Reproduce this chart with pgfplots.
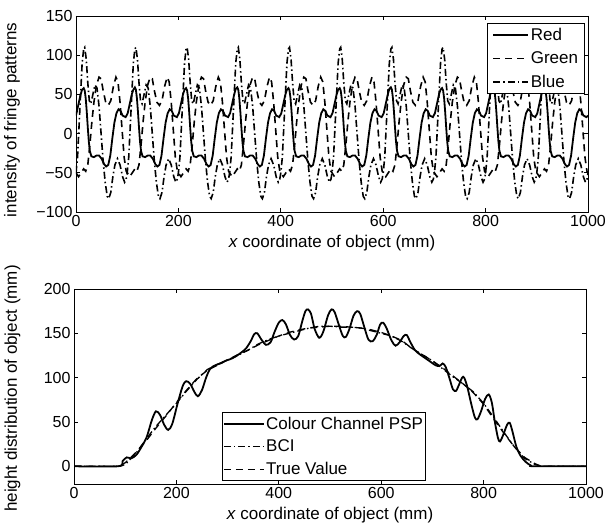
\documentclass[border=0pt]{standalone}
\usepackage{fontspec}
\setmainfont{Liberation Sans}
\usepackage{pgfplots}
\pgfplotsset{compat=1.18}

\pgfplotsset{
  panel/.style={
    scale only axis, width=512pt,
    xmin=0, xmax=1000,
    xtick={0,200,400,600,800,1000},
    xticklabels={0,200,400,600,800,1000},
    axis line style={line width=0.8pt},
    tick align=inside, tick pos=both,
    major tick length=4pt,
    tick style={line width=0.7pt, black},
    /pgf/number format/assume math mode=true,
    tick label style={font=\fontsize{16}{16}\selectfont},
    label style={font=\fontsize{17}{17}\selectfont},
    legend cell align=left,
  },
  mslegend/.style={
    draw=black, line width=0.8pt, fill=white,
    font=\fontsize{17}{17}\selectfont,
    inner ysep=2pt, row sep=5pt,
    nodes={inner xsep=1.5pt, inner ysep=2.5pt},
  },
}

\begin{document}
\begin{tikzpicture}
\path[use as bounding box] (0pt,0pt) rectangle (605pt,526pt);

% ---------- fringe patterns of the three colour channels ----------
\begin{axis}[panel,
  height=196pt, at={(76pt,314pt)}, anchor=south west,
  ymin=-100, ymax=150,
  ytick={-100,-50,0,50,100,150},
  yticklabels={−100,−50,0,50,100,150},
  xlabel={\textit{x} coordinate of object (mm)},
  ylabel={intensity of fringe patterns},
  xlabel style={at={(axis description cs:0.5,-0.158)}, anchor=center},
  ylabel style={at={(axis description cs:-0.125,0.47)}, anchor=center},
  legend image code/.code={\draw[#1] (0pt,0pt) -- (35pt,0pt);},
  legend style={mslegend, inner xsep=5pt, at={(axis description cs:0.994,0.964)}, anchor=north east},
]
\addplot[black, line width=1.8pt] coordinates {
(0,23)(1,26)(5,38)(9,50)(12,56)(15,58)(17,55)(19,45)(21,28)(23,8)(25,-10)(27,-22)(30,-29)(35,-30)(40,-28)(45,-28)(50,-32)(55,-39)(59,-42)(63,-40)(67,-28)(71,-6)(75,14)(79,26)(83,31)(87,29)(91,23)(97,21)
(101,26)(105,38)(109,50)(112,56)(115,59)(117,56)(119,45)(121,28)(123,8)(125,-10)(127,-22)(130,-29)(135,-30)(140,-28)(145,-28)(150,-32)(155,-39)(159,-42)(163,-40)(167,-28)(171,-6)(175,14)(179,26)(183,31)(187,29)(191,23)(197,21)
(201,26)(205,38)(209,50)(212,56)(215,58)(217,55)(219,45)(221,28)(223,8)(225,-10)(227,-22)(230,-29)(235,-30)(240,-28)(245,-28)(250,-32)(255,-39)(259,-42)(263,-40)(267,-28)(271,-6)(275,14)(279,26)(283,31)(287,29)(291,23)(297,21)
(301,26)(305,38)(309,50)(312,57)(315,59)(317,56)(319,45)(321,28)(323,8)(325,-10)(327,-22)(330,-29)(335,-30)(340,-28)(345,-28)(350,-32)(355,-39)(359,-42)(363,-40)(367,-28)(371,-6)(375,14)(379,26)(383,31)(387,29)(391,23)(397,21)
(401,26)(405,38)(409,50)(412,56)(415,58)(417,55)(419,45)(421,28)(423,8)(425,-10)(427,-22)(430,-29)(435,-30)(440,-28)(445,-28)(450,-32)(455,-39)(459,-42)(463,-40)(467,-28)(471,-6)(475,14)(479,26)(483,31)(487,29)(491,23)(497,21)
(501,26)(505,38)(509,50)(512,56)(515,58)(517,55)(519,45)(521,28)(523,8)(525,-10)(527,-22)(530,-29)(535,-30)(540,-28)(545,-28)(550,-32)(555,-39)(559,-42)(563,-40)(567,-28)(571,-6)(575,14)(579,26)(583,31)(587,29)(591,23)(597,21)
(601,26)(605,38)(609,50)(612,57)(615,59)(617,56)(619,45)(621,28)(623,8)(625,-10)(627,-22)(630,-29)(635,-30)(640,-28)(645,-28)(650,-32)(655,-39)(659,-42)(663,-40)(667,-28)(671,-6)(675,14)(679,26)(683,31)(687,29)(691,23)(697,21)
(701,26)(705,38)(709,50)(712,56)(715,58)(717,55)(719,45)(721,28)(723,8)(725,-10)(727,-22)(730,-29)(735,-30)(740,-28)(745,-28)(750,-32)(755,-39)(759,-42)(763,-40)(767,-28)(771,-6)(775,14)(779,26)(783,31)(787,29)(791,23)(797,21)
(801,26)(805,38)(809,50)(812,56)(815,59)(817,56)(819,45)(821,28)(823,8)(825,-10)(827,-22)(830,-29)(835,-30)(840,-28)(845,-28)(850,-32)(855,-39)(859,-42)(863,-40)(867,-28)(871,-6)(875,14)(879,26)(883,31)(887,29)(891,23)(897,21)
(901,26)(905,38)(909,50)(912,56)(915,58)(917,55)(919,45)(921,28)(923,8)(925,-10)(927,-22)(930,-29)(935,-30)(940,-28)(945,-28)(950,-32)(955,-39)(959,-42)(963,-40)(967,-28)(971,-6)(975,14)(979,26)(983,31)(987,29)(991,23)(997,21)
(1000,23)
};
\addlegendentry{Red}
\addplot[black, line width=1.6pt, dash pattern=on 7pt off 5pt] coordinates {
(0,-50)(5,-55)(10,-50)(15,-45)(19,-48)(23,-40)(27,-15)(31,15)(35,40)(40,62)(45,72)(49,70)(53,55)(58,40)(63,36)(68,42)(73,60)(78,72)(82,66)(86,40)(90,5)(94,-30)(98,-48)
(100,-50)(105,-55)(110,-50)(115,-45)(119,-48)(123,-40)(127,-15)(131,15)(135,40)(140,62)(145,72)(149,70)(153,55)(158,40)(163,36)(168,42)(173,60)(178,72)(182,66)(186,40)(190,5)(194,-30)(198,-48)
(200,-50)(205,-55)(210,-50)(215,-45)(219,-48)(223,-40)(227,-15)(231,15)(235,40)(240,62)(245,72)(249,70)(253,55)(258,40)(263,36)(268,42)(273,60)(278,72)(282,66)(286,40)(290,5)(294,-30)(298,-48)
(300,-50)(305,-55)(310,-50)(315,-45)(319,-48)(323,-40)(327,-15)(331,15)(335,40)(340,62)(345,72)(349,70)(353,55)(358,40)(363,36)(368,42)(373,60)(378,72)(382,66)(386,40)(390,5)(394,-30)(398,-48)
(400,-50)(405,-55)(410,-50)(415,-45)(419,-48)(423,-40)(427,-15)(431,15)(435,40)(440,62)(445,72)(449,70)(453,55)(458,40)(463,36)(468,42)(473,60)(478,72)(482,66)(486,40)(490,5)(494,-30)(498,-48)
(500,-50)(505,-55)(510,-50)(515,-45)(519,-48)(523,-40)(527,-15)(531,15)(535,40)(540,62)(545,72)(549,70)(553,55)(558,40)(563,36)(568,42)(573,60)(578,72)(582,66)(586,40)(590,5)(594,-30)(598,-48)
(600,-50)(605,-55)(610,-50)(615,-45)(619,-48)(623,-40)(627,-15)(631,15)(635,40)(640,62)(645,72)(649,70)(653,55)(658,40)(663,36)(668,42)(673,60)(678,72)(682,66)(686,40)(690,5)(694,-30)(698,-48)
(700,-50)(705,-55)(710,-50)(715,-45)(719,-48)(723,-40)(727,-15)(731,15)(735,40)(740,62)(745,72)(749,70)(753,55)(758,40)(763,36)(768,42)(773,60)(778,72)(782,66)(786,40)(790,5)(794,-30)(798,-48)
(800,-50)(805,-55)(810,-50)(815,-45)(819,-48)(823,-40)(827,-15)(831,15)(835,40)(840,62)(845,72)(849,70)(853,55)(858,40)(863,36)(868,42)(873,60)(878,72)(882,66)(886,40)(890,5)(894,-30)(898,-48)
(900,-50)(905,-55)(910,-50)(915,-45)(919,-48)(923,-40)(927,-15)(931,15)(935,40)(940,62)(945,72)(949,70)(953,55)(958,40)(963,36)(968,42)(973,60)(978,72)(982,66)(986,40)(990,5)(994,-30)(998,-48)
(1000,-50)
};
\addlegendentry{Green}
\addplot[black, line width=1.6pt, dash pattern=on 7pt off 3pt on 1.5pt off 3pt] coordinates {
(0,-50)(3,-30)(6,10)(9,50)(12,90)(15,108)(17,110)(20,95)(23,65)(26,42)(29,38)(33,50)(37,62)(41,58)(45,35)(49,0)(53,-35)(57,-62)(61,-80)(64,-83)(68,-75)(72,-55)(76,-40)(81,-32)(86,-40)(91,-55)(95,-62)(98,-58)
(100,-50)(103,-30)(106,10)(109,50)(112,90)(115,108)(117,110)(120,95)(123,65)(126,42)(129,38)(133,50)(137,62)(141,58)(145,35)(149,0)(153,-35)(157,-62)(161,-80)(164,-83)(168,-75)(172,-55)(176,-40)(181,-32)(186,-40)(191,-55)(195,-62)(198,-58)
(200,-50)(203,-30)(206,10)(209,50)(212,90)(215,108)(217,110)(220,95)(223,65)(226,42)(229,38)(233,50)(237,62)(241,58)(245,35)(249,0)(253,-35)(257,-62)(261,-80)(264,-83)(268,-75)(272,-55)(276,-40)(281,-32)(286,-40)(291,-55)(295,-62)(298,-58)
(300,-50)(303,-30)(306,10)(309,50)(312,90)(315,108)(317,110)(320,95)(323,65)(326,42)(329,38)(333,50)(337,62)(341,58)(345,35)(349,0)(353,-35)(357,-62)(361,-80)(364,-83)(368,-75)(372,-55)(376,-40)(381,-32)(386,-40)(391,-55)(395,-62)(398,-58)
(400,-50)(403,-30)(406,10)(409,50)(412,90)(415,108)(417,110)(420,95)(423,65)(426,42)(429,38)(433,50)(437,62)(441,58)(445,35)(449,0)(453,-35)(457,-62)(461,-80)(464,-83)(468,-75)(472,-55)(476,-40)(481,-32)(486,-40)(491,-55)(495,-62)(498,-58)
(500,-50)(503,-30)(506,10)(509,50)(512,90)(515,108)(517,110)(520,95)(523,65)(526,42)(529,38)(533,50)(537,62)(541,58)(545,35)(549,0)(553,-35)(557,-62)(561,-80)(564,-83)(568,-75)(572,-55)(576,-40)(581,-32)(586,-40)(591,-55)(595,-62)(598,-58)
(600,-50)(603,-30)(606,10)(609,50)(612,90)(615,108)(617,110)(620,95)(623,65)(626,42)(629,38)(633,50)(637,62)(641,58)(645,35)(649,0)(653,-35)(657,-62)(661,-80)(664,-83)(668,-75)(672,-55)(676,-40)(681,-32)(686,-40)(691,-55)(695,-62)(698,-58)
(700,-50)(703,-30)(706,10)(709,50)(712,90)(715,108)(717,110)(720,95)(723,65)(726,42)(729,38)(733,50)(737,62)(741,58)(745,35)(749,0)(753,-35)(757,-62)(761,-80)(764,-83)(768,-75)(772,-55)(776,-40)(781,-32)(786,-40)(791,-55)(795,-62)(798,-58)
(800,-50)(803,-30)(806,10)(809,50)(812,90)(815,108)(817,110)(820,95)(823,65)(826,42)(829,38)(833,50)(837,62)(841,58)(845,35)(849,0)(853,-35)(857,-62)(861,-80)(864,-83)(868,-75)(872,-55)(876,-40)(881,-32)(886,-40)(891,-55)(895,-62)(898,-58)
(900,-50)(903,-30)(906,10)(909,50)(912,90)(915,108)(917,110)(920,95)(923,65)(926,42)(929,38)(933,50)(937,62)(941,58)(945,35)(949,0)(953,-35)(957,-62)(961,-80)(964,-83)(968,-75)(972,-55)(976,-40)(981,-32)(986,-40)(991,-55)(995,-62)(998,-58)
(1000,-50)
};
\addlegendentry{Blue}
\end{axis}

% ---------- reconstructed height distribution ----------
\begin{axis}[panel,
  height=195pt, at={(74pt,42pt)}, anchor=south west,
  ymin=-20, ymax=200,
  ytick={0,50,100,150,200},
  yticklabels={0,50,100,150,200},
  xlabel={\textit{x} coordinate of object (mm)},
  ylabel={height distribution of object (mm)},
  xlabel style={at={(axis description cs:0.5,-0.159)}, anchor=center},
  ylabel style={at={(axis description cs:-0.12,0.49)}, anchor=center},
  legend image code/.code={\draw[#1] (0pt,0pt) -- (40pt,0pt);},
  legend style={mslegend, inner xsep=0.5pt, row sep=4pt, at={(axis description cs:0.289,0.015)}, anchor=south west},
]
\addplot[black, line width=1.8pt, smooth, tension=0.5] coordinates {
(0,0)(86,0)(95,6)(103,10)(112,9)(122,13)(132,22)(142,33)(152,52)(160,62)(168,58)(176,47)(184,41)(192,48)(202,70)(212,90)(219,96)(227,93)(235,84)(242,79)(250,86)(258,100)(266,110)(276,114)(286,116)(296,119)(306,121)(316,124)(326,128)(336,133)(345,141)(352,149)(358,150)(366,143)(375,137)(384,140)(392,152)(400,162)(407,165)(414,160)(422,148)(430,143)(438,147)(446,164)(452,175)(457,177)(463,172)(470,155)(479,145)(487,152)(496,170)(503,177)(509,174)(517,160)(525,147)(531,146)(538,155)(546,170)(553,175)(559,172)(567,157)(575,143)(583,141)(591,148)(598,160)(604,162)(611,155)(620,142)(628,136)(636,140)(644,147)(650,148)(657,140)(666,131)(676,126)(686,122)(696,118)(706,114)(714,113)(720,116)(726,112)(734,98)(740,87)(746,85)(752,92)(758,100)(762,100)(768,90)(776,70)(783,55)(788,53)(795,62)(803,76)(810,81)(816,72)(822,50)(828,32)(832,28)(838,35)(846,47)(851,49)(856,40)(864,22)(872,12)(882,5)(892,1)(900,0)(1000,0)
};
\addlegendentry{Colour Channel PSP}
\addplot[black, line width=1.3pt, dash pattern=on 7pt off 3pt on 1.5pt off 3pt] coordinates {
(0,0)(90,0)(100,2)(120,14)(140,30)(160,45)(180,58)(200,71)(220,85)(240,98)(260,109)(280,115)(300,120)(320,125)(340,131)(360,138)(380,143)(400,147)(420,150)(440,153)(460,156)(480,158)(500,158)(520,157)(540,157)(560,156)(580,153)(600,150)(620,147)(640,141)(660,133)(680,126)(700,119)(720,110)(740,101)(760,93)(780,84)(800,71)(820,55)(840,38)(860,22)(880,9)(900,2)(915,0)(1000,0)
};
\addlegendentry{BCI}
\addplot[black, line width=1.3pt, dash pattern=on 7pt off 5pt] coordinates {
(0,0)(88,0)(100,4)(120,15)(140,28)(160,43)(180,57)(200,72)(220,86)(240,99)(260,108)(280,114)(300,120)(320,126)(340,131)(360,137)(380,142)(400,147)(420,151)(440,154)(460,156)(480,157)(500,158)(520,158)(540,157)(560,156)(580,154)(600,151)(620,147)(640,142)(660,133)(680,126)(700,119)(720,111)(740,102)(760,93)(780,83)(800,70)(820,53)(840,37)(860,22)(880,10)(900,3)(912,0)(1000,0)
};
\addlegendentry{True Value}
\end{axis}
\end{tikzpicture}
\end{document}
